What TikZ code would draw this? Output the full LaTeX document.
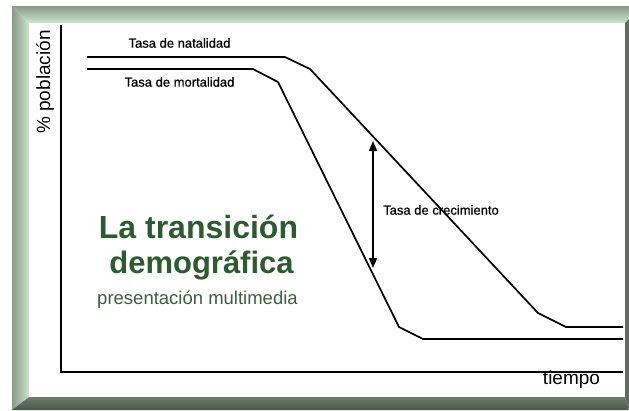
\documentclass[tikz,border=0pt]{standalone}
\usepackage{fontspec}
\setmainfont{Liberation Sans}
\newfontfamily\smallfont[FakeBold=0.6]{Liberation Sans}
\usetikzlibrary{arrows.meta}
\definecolor{titlegreen}{HTML}{2E5A30}
\definecolor{subgreen}{HTML}{3E5E40}
\definecolor{bevdark}{HTML}{8A9A8A}
\definecolor{bevlight}{HTML}{CCE4CC}
\definecolor{botA}{HTML}{6E7C6E}
\definecolor{botB}{HTML}{4C564C}
\definecolor{rightbev}{HTML}{5E6A5E}
\tikzset{
  curve/.style={line width=1.7bp, line join=miter},
  axis/.style={line width=2bp},
  lbl/.style={inner sep=0pt, font=\smallfont\fontsize{13bp}{15bp}\selectfont},
  biglbl/.style={inner sep=0pt, font=\fontsize{19bp}{22bp}\selectfont}
}
\begin{document}
\begin{tikzpicture}[x=1bp,y=-1bp]
\useasboundingbox (0,0) rectangle (629,410);
% frame
\fill[white] (0,0) rectangle (629,410);
\shade[left color=bevdark, right color=bevlight] (12,6) -- (29,23) -- (29,397) -- (12,410) -- cycle;
\shade[top color=bevdark, bottom color=bevlight] (12,6) -- (629,6) -- (629,19) -- (625,23) -- (29,23) -- cycle;
\fill[rightbev] (625,23) -- (629,19) -- (629,410) -- (625,397) -- cycle;
\shade[top color=botA, bottom color=botB] (29,397) -- (625,397) -- (629,410) -- (12,410) -- cycle;
\fill[white] (29,23) rectangle (625,397);
% axes
\coordinate (ytop) at (61,25);
\coordinate (orig) at (61,372);
\coordinate (xend) at (623,372);
\draw[axis] (ytop) -- (orig) -- (xend);
% curves
\coordinate (n1) at (87,57);
\coordinate (n2) at (285,57);
\coordinate (n3) at (310,69);
\coordinate (n4) at (538,313);
\coordinate (n5) at (566,327);
\coordinate (n6) at (623,327);
\coordinate (m1) at (87,69);
\coordinate (m2) at (253,69);
\coordinate (m3) at (278,82);
\coordinate (m4) at (399,327);
\coordinate (m5) at (423,339);
\coordinate (m6) at (623,339);
\draw[curve] (n1) -- (n2) -- (n3) -- (n4) -- (n5) -- (n6);
\draw[curve] (m1) -- (m2) -- (m3) -- (m4) -- (m5) -- (m6);
% growth arrow
\coordinate (atop) at (373,141);
\coordinate (abot) at (373,268);
\draw[line width=1.7bp, {Triangle[width=8bp,length=10bp]}-{Triangle[width=8bp,length=10bp]}] (abot) -- (atop);
% labels
\node[lbl] (nat) at (179.5,43) {Tasa de natalidad};
\node[lbl] (mort) at (179.5,82) {Tasa de mortalidad};
\node[lbl, anchor=west] (crec) at (383,210) {Tasa de crecimiento};
\node[biglbl] (tiempo) at (571.5,380) {tiempo};
\node[biglbl, rotate=90] (ylab) at (45,82) {\% población};
\node[inner sep=0pt, text=titlegreen, font=\fontsize{32bp}{36bp}\selectfont\bfseries] (t1) at (198.5,227) {La transición};
\node[inner sep=0pt, text=titlegreen, font=\fontsize{31bp}{36bp}\selectfont\bfseries] (t2) at (201.5,265) {demográfica};
\node[inner sep=0pt, text=subgreen, font=\fontsize{18.5bp}{22bp}\selectfont] (sub) at (197.5,300) {presentación multimedia};
\end{tikzpicture}
\end{document}
